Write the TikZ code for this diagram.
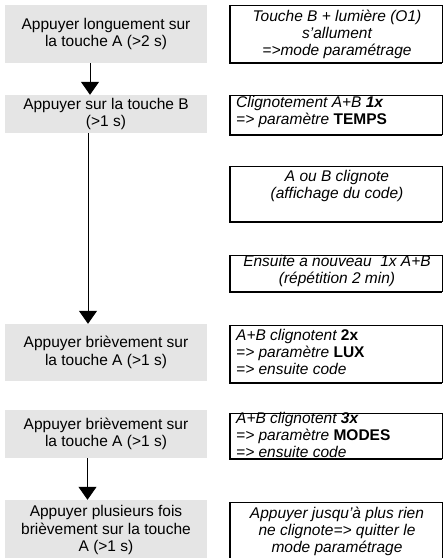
\documentclass[tikz,border=0pt]{standalone}
\usepackage{fontspec}
\setmainfont{Liberation Sans}
\usetikzlibrary{arrows.meta}
\newcommand\myrbox[3]{%
  \coordinate (#1nw) at (230,-#2);
  \coordinate (#1se) at (442,-#3);
  \draw[thinb] (#1nw) -| (#1se);
  \draw[thickb] (#1nw) |- (#1se);}
\begin{document}
\begin{tikzpicture}[x=1pt,y=1pt,
  gbox/.style={fill=black!10, minimum width=202pt, inner sep=0pt, align=center,
    font=\fontsize{15.5}{17.5}\selectfont},
  rtxt/.style={inner sep=0pt, font=\fontsize{15.5}{17}\selectfont\itshape},
  flow/.style={line width=1pt, -{Triangle[width=18pt,length=13pt]}},
  thinb/.style={line width=1pt},
  thickb/.style={line width=2.4pt}]
\useasboundingbox (0,0) rectangle (444,-558);

% left column (grey steps)
\node[gbox, minimum height=58pt] (g1) at (106,-34) {Appuyer longuement sur\\la touche A (>2 s)};
\node[gbox, minimum height=38pt] (g2) at (106,-114) {Appuyer sur la touche B\\(>1 s)};
\node[gbox, minimum height=57pt] (g3) at (106,-352.5) {Appuyer brièvement sur\\la touche A (>1 s)};
\node[gbox, minimum height=48pt] (g4) at (106,-434) {Appuyer brièvement sur\\la touche A (>1 s)};
\node[gbox, minimum height=60pt] (g5) at (106,-530) {Appuyer plusieurs fois\\brièvement sur la touche\\A (>1 s)};

% arrows
\draw[flow] ([xshift=-16pt]g1.south) -- ([xshift=-16pt]g2.north);
\draw[flow] ([xshift=-18pt]g2.south) -- ([xshift=-18pt]g3.north);
\draw[flow] ([xshift=-18.5pt]g4.south) -- ([xshift=-18.5pt]g5.north);

% right column frames
\myrbox{r1}{5}{63}
\myrbox{r2}{95}{135}
\myrbox{r3}{166}{222}
\myrbox{r4}{255}{292}
\myrbox{r5}{325}{383}
\myrbox{r6}{413}{459}
\myrbox{r7}{502}{562}

% right column texts
\node[rtxt, align=center] (t1) at (337,-34) {Touche B + lumière (O1)\\s’allument\\=>mode paramétrage};
\node[rtxt, align=left, anchor=west] (t2) at (236,-112) {Clignotement A+B \textbf{1x}\\=> paramètre \textbf{\upshape TEMPS}};
\node[rtxt, align=center] (t3) at (337,-186) {A ou B clignote\\(affichage du code)};
\node[rtxt, align=center] (t4) at (337,-271) {Ensuite a nouveau\ \ 1x A+B\\(répétition 2 min)};
\node[rtxt, align=left, anchor=west] (t5) at (236,-351.5) {A+B clignotent \textbf{\upshape 2x}\\=> paramètre \textbf{\upshape LUX}\\=> ensuite code};
\node[rtxt, align=left, anchor=west] (t6) at (236,-434.5) {A+B clignotent \textbf{3x}\\=> paramètre \textbf{\upshape MODES}\\=> ensuite code};
\node[rtxt, align=center] (t7) at (337,-531.5) {Appuyer jusqu’à plus rien\\ne clignote=> quitter le\\mode paramétrage};
\end{tikzpicture}
\end{document}
